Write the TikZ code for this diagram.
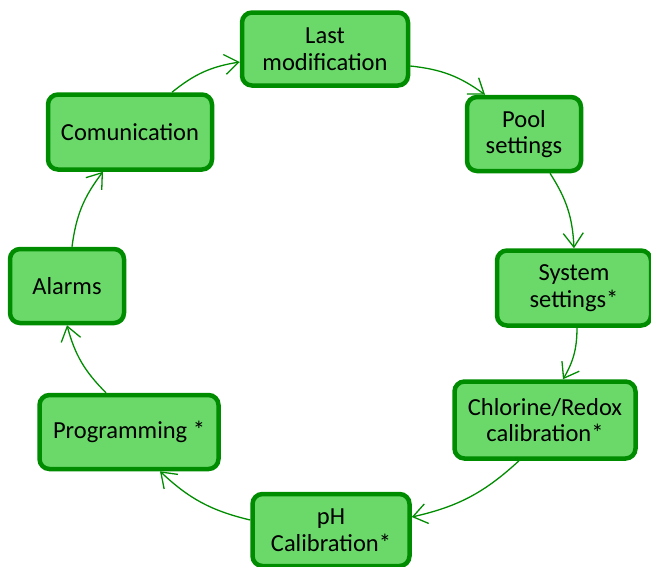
\documentclass[tikz,border=0pt]{standalone}
\usepackage{fontspec}
\setmainfont{Carlito}
\usetikzlibrary{arrows.meta}
\definecolor{boxfill}{RGB}{106,217,106}
\definecolor{boxline}{RGB}{0,140,0}
\begin{document}
\begin{tikzpicture}[x=1pt,y=-1pt,font=\fontsize{24.5}{26.5}\selectfont,
	>={Straight Barb[length=14pt,width=20pt]},
	menu/.style={draw=boxline,fill=boxfill,line width=4.5pt,rounded corners=10pt,align=center,inner sep=0pt},
	link/.style={->,draw=boxline,line width=1.3pt,bend left=15}]
	\useasboundingbox (0,0) rectangle (651,566);
	\node[menu,minimum width=166,minimum height=73] (last) at (325,49) {Last\\modification};
	\node[menu,minimum width=114,minimum height=74] (pool) at (524,134) {Pool\\settings};
	\node[menu,minimum width=154,minimum height=75] (system) at (574,288) {System\\settings*};
	\node[menu,minimum width=181,minimum height=77] (chlorine) at (545,420) {Chlorine/Redox\\calibration*};
	\node[menu,minimum width=157,minimum height=72] (ph) at (331,530) {pH\\Calibration*};
	\node[menu,minimum width=179,minimum height=74] (prog) at (129,432) {Programming *};
	\node[menu,minimum width=114,minimum height=74] (alarms) at (67,286) {Alarms};
	\node[menu,minimum width=164,minimum height=75] (comm) at (130,132) {Comunication};
	% arrows round the circle
	\draw[link] ([xshift=42pt]comm.north) to ([yshift=-13pt]last.west);
	\draw[link] ([yshift=-17pt]last.east) to ([xshift=-39pt]pool.north);
	\draw[link] ([xshift=26pt]pool.south) to (system.north);
	\draw[link] ([xshift=3pt]system.south) to ([xshift=18pt]chlorine.north);
	\draw[link] ([xshift=-26pt]chlorine.south) to ([yshift=13pt]ph.east);
	\draw[link] ([yshift=10pt]ph.west) to ([xshift=31pt]prog.south);
	\draw[link] ([xshift=-23pt]prog.north) to (alarms.south);
	\draw[link] ([xshift=5pt]alarms.north) to ([xshift=-27pt]comm.south);
\end{tikzpicture}
\end{document}
